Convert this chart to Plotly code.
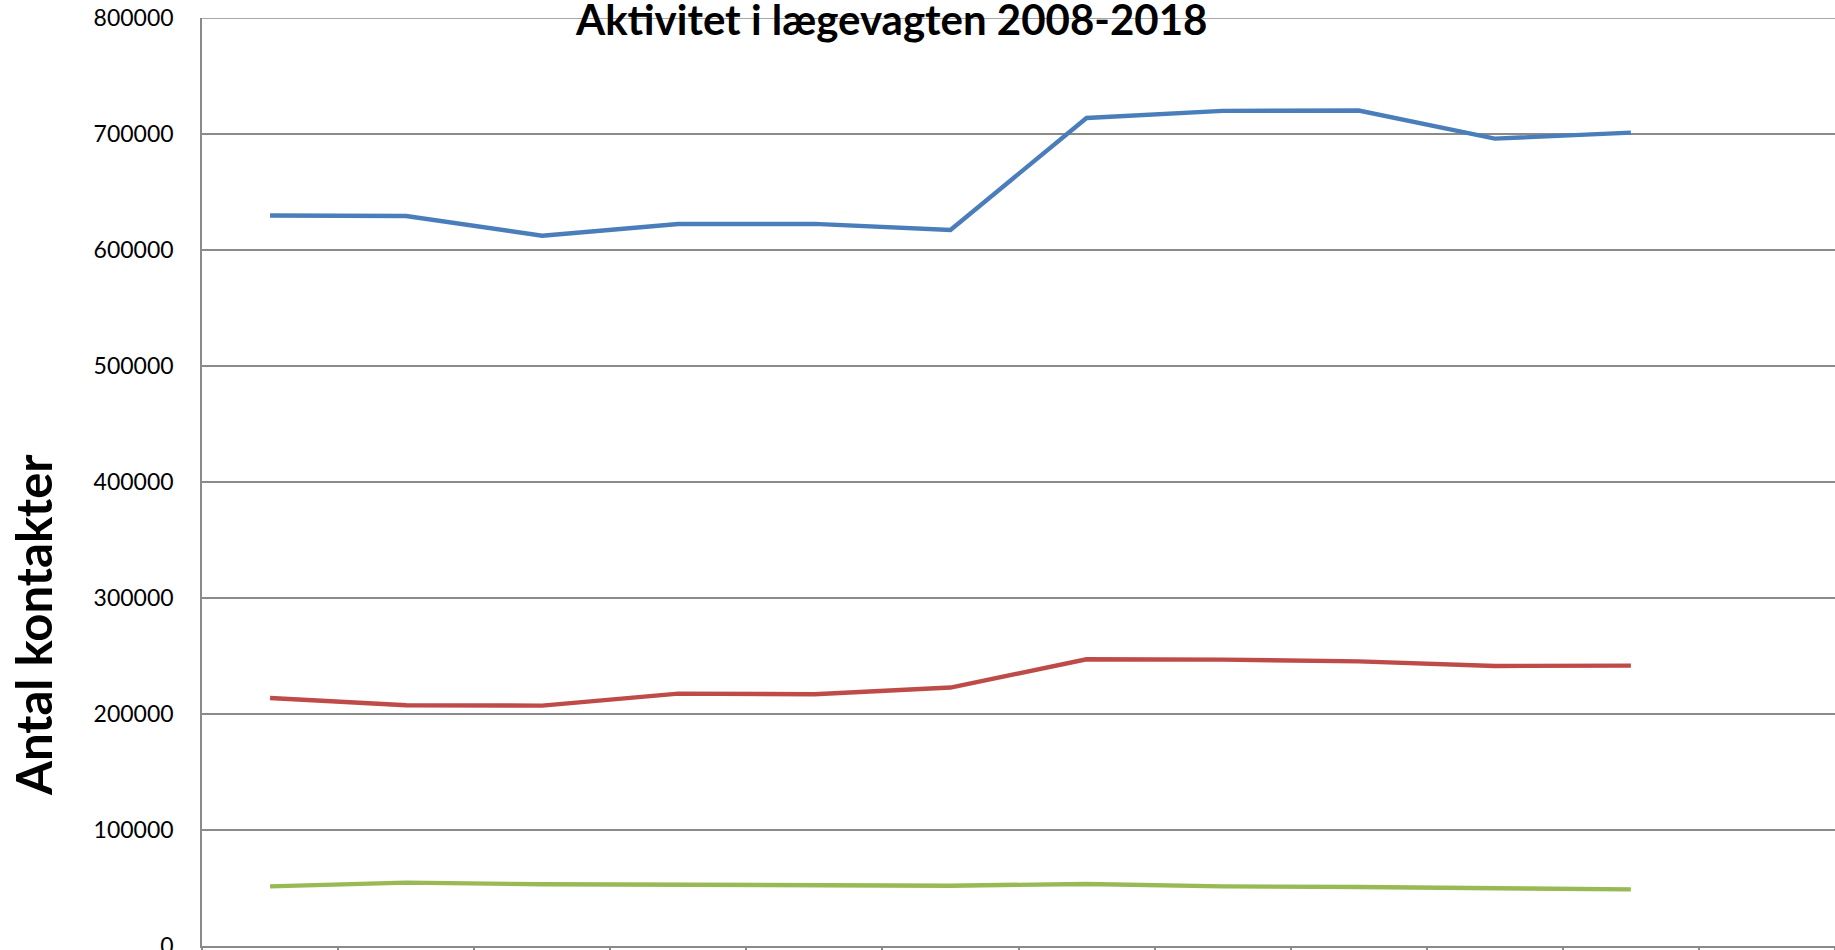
import plotly.graph_objects as go

years = [2008, 2009, 2010, 2011, 2012, 2013, 2014, 2015, 2016, 2017, 2018]
blue_values = [629800, 629300, 612300, 622400, 622500, 617300, 713800, 719900, 720200, 696000, 701200]
red_values = [213800, 207500, 207200, 217600, 217000, 222800, 247200, 246900, 245400, 241400, 241700]
green_values = [51400, 54600, 53200, 52900, 52600, 52000, 53500, 51400, 50900, 49400, 48800]
y_ticks = [0, 100000, 200000, 300000, 400000, 500000, 600000, 700000, 800000]

title_text = "Aktivitet i lægevagten 2008-2018"
y_title_text = "Antal kontakter"

W, H = 1835, 980
L, R, T, B = 202, 0, 18, 34
pw = W - L - R
ph = H - T - B

fig = go.Figure()
for vals, col in [(blue_values, "#4A7EBB"), (red_values, "#BE4B48"), (green_values, "#98B954")]:
    fig.add_trace(go.Scatter(x=years, y=vals, mode="lines",
                             line=dict(color=col, width=4.4),
                             showlegend=False, hoverinfo="skip"))

grid_col = "#8a8a8a"
fig.update_layout(
    width=W, height=H,
    margin=dict(l=L, r=R, t=T, b=B, pad=0),
    paper_bgcolor="white", plot_bgcolor="white",
    font=dict(family="Lato, Liberation Sans, sans-serif", color="black"),
    xaxis=dict(range=[2007.5, 2019.5], tickmode="linear", tick0=2007.5, dtick=1,
               showticklabels=False, ticks="outside", ticklen=6, tickwidth=1.5,
               tickcolor=grid_col, showgrid=False, zeroline=False,
               showline=True, linecolor=grid_col, linewidth=1.5),
    yaxis=dict(range=[0, 800000], tickmode="array", tickvals=y_ticks,
               ticktext=[str(v) for v in y_ticks],
               tickfont=dict(size=23, family="Lato, sans-serif", color="black"),
               ticks="", ticklabelstandoff=22,
               showgrid=True, gridcolor=grid_col, gridwidth=1.5,
               zeroline=False, showline=True, linecolor=grid_col, linewidth=1.5),
)

# top gridline (plotly omits the grid line on the plot edge)
fig.add_shape(type="line", xref="paper", x0=0, x1=1, yref="y",
              y0=y_ticks[-1], y1=y_ticks[-1], layer="below",
              line=dict(color=grid_col, width=1.5))

def px_x(page_x):
    return (page_x - L) / pw

def px_y(page_y):
    return (H - B - page_y) / ph

fig.add_annotation(text="<b>" + title_text + "</b>", xref="paper", yref="paper",
                   x=px_x(891), y=px_y(19), xanchor="center", yanchor="middle",
                   showarrow=False, font=dict(size=42, family="Lato, sans-serif", color="black"))
fig.add_annotation(text="<b>" + y_title_text + "</b>", xref="paper", yref="paper",
                   x=px_x(33), y=px_y(625), xanchor="center", yanchor="middle",
                   textangle=-90, showarrow=False,
                   font=dict(size=49, family="Lato, sans-serif", color="black"))

fig.write_html(
    "out.html",
    config={"displayModeBar": False},
    post_script="document.body.style.margin='0';"
                "document.body.style.overflow='hidden';"
                "document.documentElement.style.overflow='hidden';",
)
